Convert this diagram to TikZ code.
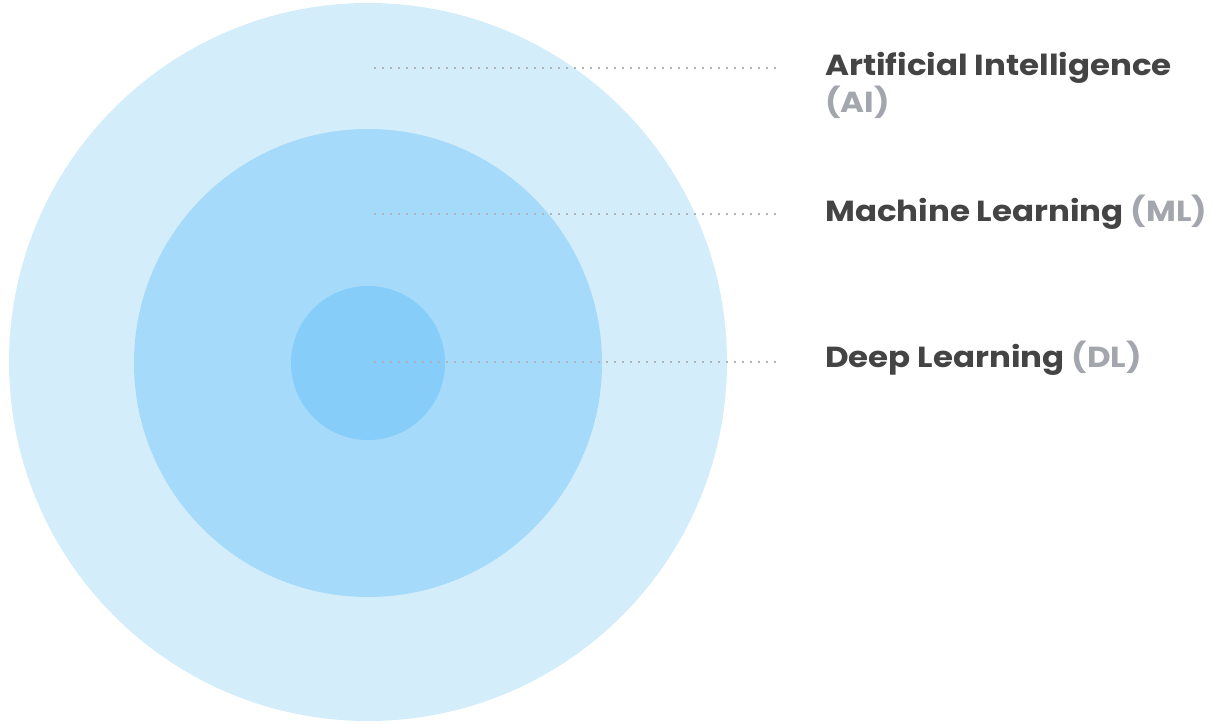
\documentclass[tikz,border=0pt]{standalone}
\usepackage{fontspec}
\setmainfont{Poppins}[FakeStretch=1.12]
\definecolor{aiC}{HTML}{D4EDFB}
\definecolor{mlC}{HTML}{A5DAFA}
\definecolor{dlC}{HTML}{86CDF9}
\definecolor{txtC}{HTML}{444444}
\definecolor{abbrC}{HTML}{A3A7AD}
\definecolor{dotC}{HTML}{AFB4B8}
\tikzset{
  lbl/.style={anchor=base west, inner sep=0pt, text=txtC, font=\fontsize{29}{34}\selectfont\bfseries},
  guide/.style={draw=dotC, line width=1.6pt, dash pattern=on 1.6pt off 6.4pt},
}
\newcommand{\abbr}[1]{\textcolor{abbrC}{#1}}
\begin{document}
\begin{tikzpicture}[x=1pt,y=-1pt]
\useasboundingbox (0,0) rectangle (1213,723);
\fill[aiC] (368,362) circle (359);
\fill[mlC] (368,363) circle (234);
\fill[dlC] (368,363) circle (77);
\coordinate (a1) at (374,68); \coordinate (a2) at (776,68);
\coordinate (m1) at (374,214); \coordinate (m2) at (776,214);
\coordinate (d1) at (374,362); \coordinate (d2) at (776,362);
\draw[guide] (a1) -- (a2);
\draw[guide] (m1) -- (m2);
\draw[guide] (d1) -- (d2);
\node[lbl] (ai) at (825,75) {Artificial Intelligence};
\node[lbl] (aiab) at (825,112) {\abbr{(AI)}};
\node[lbl] (ml) at (825,221) {Machine Learning \abbr{(ML)}};
\node[lbl] (dl) at (825,367) {Deep Learning \abbr{(DL)}};
\end{tikzpicture}
\end{document}
